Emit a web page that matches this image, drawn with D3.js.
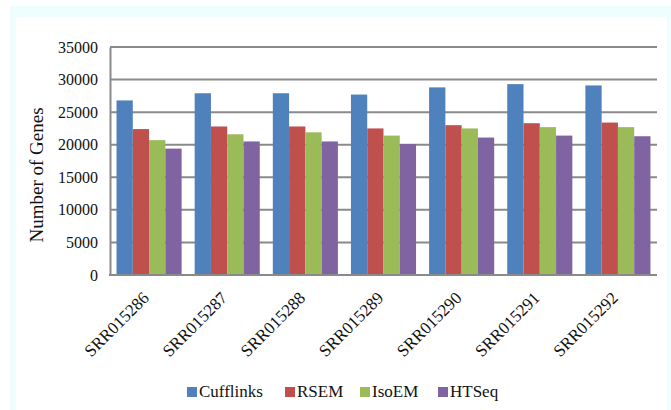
<!DOCTYPE html>
<html>
<head>
<meta charset="utf-8">
<script src="https://cdn.jsdelivr.net/npm/d3@7"></script>
<style>
  html, body { margin: 0; padding: 0; background: #ffffff; }
  svg { display: block; }
  text { font-family: "Liberation Serif", "Times New Roman", serif; fill: #111; }
</style>
</head>
<body>
<svg id="chart" width="671" height="410"></svg>
<script>
// Gene counts per sample, by quantification method
const samples = ["SRR015286", "SRR015287", "SRR015288", "SRR015289", "SRR015290", "SRR015291", "SRR015292"];
const methods = ["Cufflinks", "RSEM", "IsoEM", "HTSeq"];
const cufflinks = [26800, 27900, 27900, 27700, 28800, 29300, 29100];
const rsem      = [22400, 22800, 22800, 22500, 23000, 23300, 23400];
const isoem     = [20700, 21600, 21900, 21400, 22500, 22700, 22700];
const htseq     = [19400, 20500, 20500, 20100, 21100, 21400, 21300];
const yTicks = [0, 5000, 10000, 15000, 20000, 25000, 30000, 35000];

const seriesValues = [cufflinks, rsem, isoem, htseq];
const colors = ["#4f81bd", "#c0504d", "#9bbb59", "#8064a2"];

const svg = d3.select("#chart");

// light frame around the panel
svg.append("rect").attr("x", 10).attr("y", 6).attr("width", 661).attr("height", 404).attr("fill", "#eefefe");
svg.append("rect").attr("x", 16).attr("y", 17).attr("width", 651).attr("height", 393).attr("fill", "#ffffff");

const plotLeft = 110, plotRight = 657, plotTop = 47, plotBottom = 275;

const x = d3.scaleBand().domain(samples).range([plotLeft, plotRight]).paddingInner(0.167).paddingOuter(0.0835);
const xm = d3.scaleBand().domain(methods).range([0, x.bandwidth()]);
const y = d3.scaleLinear().domain([0, 35000]).range([plotBottom, plotTop]);

// horizontal gridlines
svg.append("g").selectAll("line").data(yTicks.filter(d => d > 0)).join("line")
  .attr("x1", plotLeft).attr("x2", plotRight)
  .attr("y1", d => y(d)).attr("y2", d => y(d))
  .attr("stroke", "#8a8a8a").attr("stroke-width", 2);

// bars
const groups = svg.append("g").selectAll("g").data(samples).join("g")
  .attr("transform", d => `translate(${x(d)},0)`);
groups.selectAll("rect")
  .data((s, i) => methods.map((m, j) => ({ m, v: seriesValues[j][i], c: colors[j] })))
  .join("rect")
  .attr("x", d => xm(d.m))
  .attr("width", xm.bandwidth())
  .attr("y", d => y(d.v))
  .attr("height", d => plotBottom - y(d.v))
  .attr("fill", d => d.c);

// y axis
const yAxis = d3.axisLeft(y).tickValues(yTicks).tickSize(0).tickPadding(12).tickFormat(d3.format("d"));
const ya = svg.append("g").attr("transform", `translate(${plotLeft},0)`).call(yAxis);
ya.select(".domain").attr("stroke", "#8a8a8a").attr("stroke-width", 2);
ya.selectAll("text").attr("font-size", 16).attr("font-family", "Liberation Serif").attr("fill", "#111");

// x axis
const xAxis = d3.axisBottom(x).tickSize(0).tickSizeOuter(0);
const xa = svg.append("g").attr("transform", `translate(0,${plotBottom})`).call(xAxis);
xa.select(".domain").attr("stroke", "#8a8a8a").attr("stroke-width", 2).attr("d", `M${plotLeft - 1},0H${plotRight}`);
xa.selectAll("text")
  .attr("font-size", 17).attr("font-family", "Liberation Serif").attr("fill", "#111")
  .attr("text-anchor", "end")
  .attr("dy", null).attr("y", 0)
  .attr("transform", "translate(1,24) rotate(-45)");

// y axis title
svg.append("text")
  .attr("transform", `translate(43,175) rotate(-90)`)
  .attr("text-anchor", "middle")
  .attr("font-size", 19)
  .text("Number of Genes");

// legend
const legendX = [187, 285, 360, 438];
const legend = svg.append("g").selectAll("g").data(methods).join("g")
  .attr("transform", (d, i) => `translate(${legendX[i]},0)`);
legend.append("rect").attr("x", 0).attr("y", 387).attr("width", 10).attr("height", 10)
  .attr("fill", (d, i) => colors[i]);
legend.append("text").attr("x", 12).attr("y", 397).attr("font-size", 17).text(d => d);
</script>
</body>
</html>
